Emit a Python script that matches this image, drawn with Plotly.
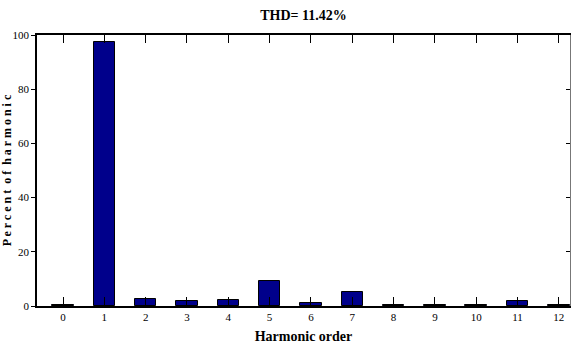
import plotly.graph_objects as go

harmonic_order = [0, 1, 2, 3, 4, 5, 6, 7, 8, 9, 10, 11, 12]
percent_of_fundamental = [0.3, 97.4, 2.6, 1.8, 2.2, 9.2, 1.0, 5.2, 0.5, 0.5, 0.5, 2.0, 0.5]
y_ticks = [0, 20, 40, 60, 80, 100]
title_text = "THD= 11.42%"

FONT = "Liberation Serif"
X_RANGE = [-0.63, 12.27]
Y_RANGE = [0, 100]

fig = go.Figure()
fig.add_trace(go.Bar(
    x=harmonic_order, y=percent_of_fundamental, width=0.52,
    marker=dict(color="#00008B", line=dict(color="black", width=1)),
    showlegend=False, hoverinfo="x+y",
))
# invisible helper trace so the top/right mirror axes (with inward ticks) are drawn
fig.add_trace(go.Scatter(x=[harmonic_order[0]], y=[Y_RANGE[0]], xaxis="x2", yaxis="y2",
                         mode="markers", marker=dict(opacity=0), showlegend=False,
                         hoverinfo="skip"))

fig.update_layout(
    width=571, height=345,
    margin=dict(l=37, r=1, t=35, b=39),
    paper_bgcolor="white", plot_bgcolor="white",
    font=dict(family=FONT, color="black", size=11),
    title=dict(text="<b>" + title_text + "</b>", x=(37 + 570) / 2 / 571, xanchor="center",
               y=1 - 15 / 345, yanchor="middle", font=dict(size=14, family=FONT)),
    xaxis=dict(
        range=X_RANGE, tickmode="array", tickvals=harmonic_order,
        ticktext=[str(v) for v in harmonic_order],
        ticks="inside", ticklen=9, tickwidth=1.2, tickcolor="black",
        showline=True, linecolor="black", linewidth=1.5,
        showgrid=False, zeroline=False, layer="above traces",
        tickfont=dict(size=11, family=FONT),
        title=dict(text="<b>Harmonic order</b>", font=dict(size=14, family=FONT), standoff=9),
    ),
    xaxis2=dict(
        overlaying="x", side="top", range=X_RANGE, tickmode="array", tickvals=harmonic_order,
        ticks="inside", ticklen=8, tickwidth=1.2, tickcolor="black",
        showticklabels=False, showline=True, linecolor="black", linewidth=1.5,
        showgrid=False, zeroline=False, layer="above traces",
    ),
    yaxis=dict(
        range=Y_RANGE, tickmode="array", tickvals=y_ticks,
        ticktext=[str(v) for v in y_ticks],
        ticks="outside", ticklen=4, tickwidth=1, tickcolor="black",
        showline=True, linecolor="black", linewidth=1.5,
        showgrid=False, zeroline=False,
        tickfont=dict(size=11, family=FONT),
        title=dict(text="<b>P e r c e n t  o f  h a r m o n i c</b>",
                   font=dict(size=12, family=FONT), standoff=3),
    ),
    yaxis2=dict(
        overlaying="y", side="right", range=Y_RANGE, tickmode="array", tickvals=y_ticks,
        ticks="inside", ticklen=4, tickwidth=1, tickcolor="black",
        showticklabels=False, showline=True, linecolor="#777777", linewidth=1,
        showgrid=False, zeroline=False,
    ),
    bargap=0,
)

fig.write_html("out.html")
